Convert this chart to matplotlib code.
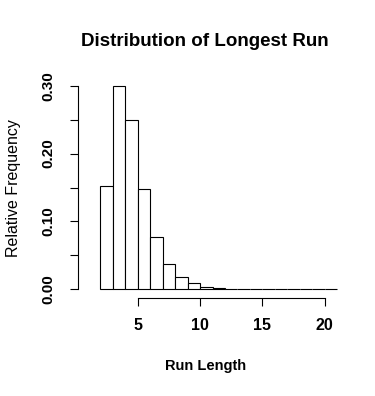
import matplotlib.pyplot as plt

# histogram of longest run lengths (bins of width 1 from 2 to 21)
bin_left = list(range(2, 21))
rel_freq = [0.1515, 0.299, 0.250, 0.1485, 0.0765, 0.038, 0.0176, 0.0088, 0.003,
            0.0015, 0.0008, 0.0003, 0.0001, 0, 0, 0, 0, 0, 0]
x_ticks = [5, 10, 15, 20]
y_ticks = [0, 0.05, 0.10, 0.15, 0.20, 0.25, 0.30]
y_labels = ['0.00', '', '0.10', '', '0.20', '', '0.30']

plt.rcParams['font.family'] = ['Liberation Sans', 'DejaVu Sans']

W, H = 375, 396
fig = plt.figure(figsize=(W / 100, H / 100), dpi=100)
# axes placed in pixels (left, right, top, bottom)
l, r, t, b = 78, 347, 77.5, 297.5
ax = fig.add_axes([l / W, 1 - b / H, (r - l) / W, (b - t) / H])

ax.bar(bin_left, rel_freq, width=1, align='edge', color='white',
       edgecolor='black', linewidth=0.8)

ax.set_xlim(0.2, 21.8)
ax.set_ylim(-0.012, 0.312)

for s in ['top', 'right']:
    ax.spines[s].set_visible(False)
ax.spines['left'].set_bounds(0, 0.3)
ax.spines['bottom'].set_bounds(5, 20)
ax.spines['left'].set_linewidth(0.8)
ax.spines['bottom'].set_linewidth(0.8)

ax.set_xticks(x_ticks)
ax.set_xticklabels([str(v) for v in x_ticks], fontsize=11.5, fontweight='bold')
ax.set_yticks(y_ticks)
ax.set_yticklabels(y_labels, fontsize=11, fontweight='bold', rotation=90, va='center')
ax.tick_params(axis='both', length=5.5, width=0.8)
ax.tick_params(axis='x', pad=9)
ax.tick_params(axis='y', pad=11)

fig.text(205 / W, 1 - 42 / H, 'Distribution of Longest Run', ha='center', va='center',
         fontsize=13.5, fontweight='bold')
fig.text(206 / W, 1 - 366 / H, 'Run Length', ha='center', va='center',
         fontsize=10.5, fontweight='bold')
fig.text(14 / W, 1 - 188 / H, 'Relative Frequency', ha='center', va='center',
         rotation=90, fontsize=11.5)

fig.savefig('out.png', dpi=100)
